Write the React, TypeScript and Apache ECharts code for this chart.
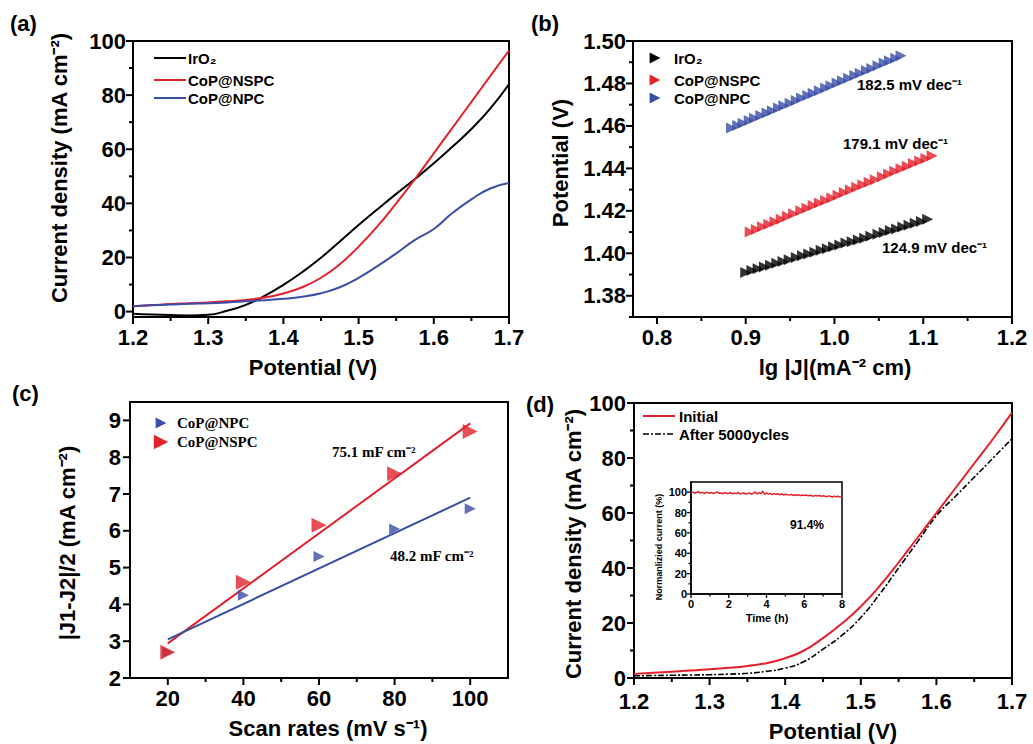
import React, { useEffect, useRef } from "react";
import * as echarts from "echarts";

// ---------- (a) LSV polarization curves ----------
const potentialA = [1.2, 1.225, 1.25, 1.275, 1.3, 1.325, 1.35, 1.375, 1.4, 1.425, 1.45, 1.475, 1.5, 1.525, 1.55, 1.575, 1.6, 1.625, 1.65, 1.675, 1.7];
const iro2A = [-0.8, -1.1, -1.3, -1.4, -1.2, 0.3, 2.5, 5.8, 9.9, 14.6, 19.9, 25.9, 32.0, 37.8, 43.5, 49.0, 54.8, 61.0, 67.5, 75.0, 84.0];
const nspcA = [2.0, 2.4, 2.8, 3.1, 3.4, 3.8, 4.3, 5.2, 6.7, 9.0, 12.5, 17.5, 24.0, 31.5, 40.0, 49.0, 58.5, 68.0, 77.5, 87.0, 96.5];
const npcA = [2.0, 2.3, 2.6, 2.9, 3.1, 3.4, 3.8, 4.2, 4.7, 5.5, 6.8, 9.0, 12.5, 16.8, 21.5, 26.5, 30.5, 36.5, 41.5, 45.5, 47.5];
const seriesNamesA = ["IrO\u2082", "CoP@NSPC", "CoP@NPC"];

// ---------- (b) Tafel plots ----------
const tafelNpcX = [0.884, 0.891, 0.897, 0.904, 0.910, 0.917, 0.924, 0.930, 0.937, 0.943, 0.950, 0.957, 0.963, 0.970, 0.976, 0.983, 0.990, 0.996, 1.003, 1.009, 1.016, 1.023, 1.029, 1.036, 1.042, 1.049, 1.056, 1.062, 1.069, 1.075];
const tafelNpcY = [1.4590, 1.4602, 1.4613, 1.4626, 1.4636, 1.4649, 1.4661, 1.4672, 1.4684, 1.4695, 1.4707, 1.4720, 1.4731, 1.4743, 1.4754, 1.4766, 1.4779, 1.4789, 1.4802, 1.4813, 1.4825, 1.4837, 1.4848, 1.4861, 1.4871, 1.4884, 1.4896, 1.4907, 1.4919, 1.4930];
const tafelNspcX = [0.905, 0.912, 0.919, 0.926, 0.933, 0.940, 0.947, 0.954, 0.962, 0.969, 0.976, 0.983, 0.990, 0.997, 1.004, 1.011, 1.018, 1.025, 1.032, 1.039, 1.046, 1.054, 1.061, 1.068, 1.075, 1.082, 1.089, 1.096, 1.103, 1.110];
const tafelNspcY = [1.4100, 1.4112, 1.4125, 1.4137, 1.4149, 1.4161, 1.4174, 1.4186, 1.4200, 1.4212, 1.4225, 1.4237, 1.4249, 1.4261, 1.4274, 1.4286, 1.4298, 1.4311, 1.4323, 1.4335, 1.4347, 1.4361, 1.4374, 1.4386, 1.4398, 1.4410, 1.4423, 1.4435, 1.4447, 1.4460];
const tafelIrX = [0.900, 0.907, 0.914, 0.921, 0.928, 0.935, 0.942, 0.949, 0.957, 0.964, 0.971, 0.978, 0.985, 0.992, 0.999, 1.006, 1.013, 1.020, 1.027, 1.034, 1.041, 1.049, 1.056, 1.063, 1.070, 1.077, 1.084, 1.091, 1.098, 1.105];
const tafelIrY = [1.3910, 1.3919, 1.3927, 1.3936, 1.3944, 1.3953, 1.3961, 1.3970, 1.3980, 1.3988, 1.3997, 1.4005, 1.4014, 1.4022, 1.4031, 1.4039, 1.4048, 1.4054, 1.4063, 1.4071, 1.4080, 1.4090, 1.4098, 1.4107, 1.4115, 1.4124, 1.4132, 1.4141, 1.4150, 1.4160];
const tafelSlopes = ["182.5 mV dec\u207B\u00B9", "179.1 mV dec\u207B\u00B9", "124.9 mV dec\u207B\u00B9"];

// ---------- (c) double-layer capacitance ----------
const scanRates = [20, 40, 60, 80, 100];
const npcC = [2.7, 4.25, 5.3, 6.05, 6.6];
const nspcC = [2.7, 4.6, 6.15, 7.55, 8.7];
const fitRates = [20, 100];
const npcFit = [3.05, 6.9];
const nspcFit = [2.94, 8.92];
const capLabels = ["75.1 mF cm\u207B\u00B2", "48.2 mF cm\u207B\u00B2"];

// ---------- (d) stability ----------
const potentialD = [1.2, 1.225, 1.25, 1.275, 1.3, 1.325, 1.35, 1.375, 1.4, 1.425, 1.45, 1.475, 1.5, 1.525, 1.55, 1.575, 1.6, 1.625, 1.65, 1.675, 1.7];
const initialD = [1.5, 1.9, 2.3, 2.7, 3.2, 3.7, 4.4, 5.4, 7.2, 10.0, 14.5, 19.8, 26.0, 33.5, 42.0, 51.0, 60.0, 69.0, 78.0, 87.0, 96.5];
const afterD = [0.8, 0.9, 1.0, 1.1, 1.2, 1.4, 1.7, 2.4, 3.6, 6.0, 10.5, 15.5, 22.0, 30.5, 40.0, 49.5, 59.0, 66.0, 73.0, 80.0, 87.0];
const insetStepH = 0.1;
const insetCurrent = [
  99.5, 100.2, 98.8, 99.9, 100.5, 99.1, 99.8, 98.6, 100.1, 99.4, 99.0,
  99.7, 98.5, 99.6, 100.3, 98.9, 99.2, 98.4, 99.8, 98.7, 98.9,
  99.5, 98.3, 99.1, 98.6, 99.9, 98.2, 98.8, 99.4, 98.1, 98.7,
  99.3, 98.0, 98.9, 100.4, 98.3, 99.6, 98.5, 101.0, 97.9, 99.2,
  98.1, 98.8, 97.7, 98.6, 97.9, 98.4, 97.5, 98.2, 97.3, 98.0,
  97.6, 97.1, 97.9, 96.9, 97.5, 96.8, 97.4, 96.6, 97.2, 96.7,
  97.3, 96.4, 97.0, 96.5, 96.1, 96.9, 96.2, 96.8, 95.9, 96.5,
  96.0, 95.6, 96.4, 95.8, 95.3, 96.1, 95.5, 95.9, 95.2, 95.4,
];

// ---------- tick values ----------
const potTicks = [1.2, 1.3, 1.4, 1.5, 1.6, 1.7];
const potMinor = [1.25, 1.35, 1.45, 1.55, 1.65];
const curTicks = [0, 20, 40, 60, 80, 100];
const curMinor = [10, 30, 50, 70, 90];
const lgTicks = [0.8, 0.9, 1.0, 1.1, 1.2];
const lgMinor = [0.85, 0.95, 1.05, 1.15];
const tafTicks = [1.38, 1.40, 1.42, 1.44, 1.46, 1.48, 1.50];
const tafMinor = [1.37, 1.39, 1.41, 1.43, 1.45, 1.47, 1.49];
const rateTicks = [20, 40, 60, 80, 100];
const rateMinor = [30, 50, 70, 90];
const capTicks = [2, 3, 4, 5, 6, 7, 8, 9];
const timeTicks = [0, 2, 4, 6, 8];
const timeMinor = [1, 3, 5, 7];
const normTicks = [0, 20, 40, 60, 80, 100];
const normMinor = [10, 30, 50, 70, 90];

const FONT = '"Liberation Sans", Arial, Helvetica, sans-serif';
const SERIF = '"Liberation Serif", "Times New Roman", serif';
const RED = "#e3212b";
const BLUE = "#3a4ea6";
const BLACK = "#000000";

const GRIDS = [
  { left: 133, top: 41, width: 376, height: 276 },
  { left: 633, top: 41, width: 379, height: 276 },
  { left: 130, top: 402, width: 378, height: 276 },
  { left: 634, top: 403, width: 378, height: 275 },
  { left: 691, top: 482, width: 151, height: 112 },
];
// axis extents per grid: [xMin, xMax, yMin, yMax]
const EXTENTS: [number, number, number, number][] = [
  [1.2, 1.7, -2, 100],
  [0.773, 1.2, 1.37, 1.5],
  [10, 110, 2, 9.5],
  [1.2, 1.7, 0, 100],
  [0, 8, 0, 110],
];

function makeAxis(
  dim: "x" | "y",
  gridIndex: number,
  labels: number[],
  fmt: (v: number) => string,
  fontSize = 22,
  lineW = 2,
  margin = 8
) {
  const e = EXTENTS[gridIndex];
  return {
    type: "value",
    gridIndex,
    min: dim === "x" ? e[0] : e[2],
    max: dim === "x" ? e[1] : e[3],
    position: dim === "x" ? "bottom" : "left",
    axisLine: { show: true, onZero: false, lineStyle: { color: BLACK, width: lineW } },
    axisTick: { show: false },
    axisLabel: {
      show: true,
      customValues: labels,
      formatter: (v: number) => fmt(v),
      fontSize,
      fontWeight: "bold",
      fontFamily: FONT,
      color: BLACK,
      margin,
    },
    splitLine: { show: false },
  };
}

// tick marks drawn through the axes' own scale (api.coord)
function tickSeries(gi: number, dim: "x" | "y", majors: number[], minors: number[], majLen: number, minLen: number, w: number) {
  const e = EXTENTS[gi];
  return {
    type: "custom",
    name: `ticks-${gi}-${dim}`,
    xAxisIndex: gi,
    yAxisIndex: gi,
    clip: false,
    silent: true,
    z: 9,
    data: [...majors.map((v) => [v, majLen]), ...minors.map((v) => [v, minLen])],
    renderItem: (_params: any, api: any) => {
      const v = api.value(0);
      const len = api.value(1);
      if (dim === "x") {
        const p = api.coord([v, e[2]]);
        return { type: "rect", shape: { x: p[0] - w / 2, y: p[1], width: w, height: len }, style: { fill: BLACK } };
      }
      const p = api.coord([e[0], v]);
      return { type: "rect", shape: { x: p[0] - len, y: p[1] - w / 2, width: len, height: w }, style: { fill: BLACK } };
    },
  };
}

function tri(cx: number, cy: number, s: number, color: string) {
  return {
    type: "polygon",
    shape: { points: [[cx - s * 0.6, cy - s * 0.6], [cx + s * 0.6, cy], [cx - s * 0.6, cy + s * 0.6]] },
    style: { fill: color },
  };
}

function txt(x: number, y: number, text: string, size: number, opts: any = {}) {
  return {
    type: "text",
    x,
    y,
    rotation: opts.rotation || 0,
    style: {
      text,
      fill: BLACK,
      font: `${opts.weight || "bold"} ${size}px ${opts.family || FONT}`,
      align: opts.align || "left",
      verticalAlign: "middle",
    },
    z: 10,
  };
}

const zip = (a: number[], b: number[]) => a.map((v, i) => [v, b[i]]);

export default function App() {
  const ref = useRef<HTMLDivElement>(null);
  useEffect(() => {
    if (!ref.current) return;
    const chart = echarts.init(ref.current, undefined, { renderer: "svg" });
    const f1 = (v: number) => v.toFixed(1);
    const f2 = (v: number) => v.toFixed(2);
    const f0 = (v: number) => String(Math.round(v));

    const xAxis = [
      makeAxis("x", 0, potTicks, f1, 22, 2, 9),
      makeAxis("x", 1, lgTicks, f1, 22, 2, 9),
      makeAxis("x", 2, rateTicks, f0, 22, 2, 9),
      makeAxis("x", 3, potTicks, f1, 22, 2, 12),
      makeAxis("x", 4, timeTicks, f0, 11, 1.5, 4),
    ];
    const yAxis = [
      makeAxis("y", 0, curTicks, f0, 22, 2, 7),
      makeAxis("y", 1, tafTicks, f2, 22, 2, 7),
      makeAxis("y", 2, capTicks, f0, 22, 2, 9),
      makeAxis("y", 3, curTicks, f0, 22, 2, 8),
      makeAxis("y", 4, normTicks, f0, 11, 1.5, 4),
    ];

    const grid = GRIDS.map((g, i) => ({
      ...g,
      show: true,
      borderColor: BLACK,
      borderWidth: i === 4 ? 1.5 : 2,
      backgroundColor: i === 4 ? "#fff" : "transparent",
      containLabel: false,
    }));

    const lineA = (name: string, data: number[], color: string) => ({
      type: "line",
      name,
      xAxisIndex: 0,
      yAxisIndex: 0,
      data: zip(potentialA, data),
      smooth: 0.5,
      showSymbol: false,
      lineStyle: { color, width: 2 },
      z: 3,
    });
    const tafel = (name: string, xs: number[], ys: number[], color: string) => ({
      type: "scatter",
      name,
      xAxisIndex: 1,
      yAxisIndex: 1,
      data: zip(xs, ys),
      symbol: "triangle",
      symbolRotate: -90,
      symbolSize: 11,
      itemStyle: { color },
    });

    const series: any[] = [
      lineA(seriesNamesA[0], iro2A, BLACK),
      lineA(seriesNamesA[1], nspcA, RED),
      lineA(seriesNamesA[2], npcA, BLUE),
      tafel("IrO2-tafel", tafelIrX, tafelIrY, BLACK),
      tafel("NSPC-tafel", tafelNspcX, tafelNspcY, RED),
      tafel("NPC-tafel", tafelNpcX, tafelNpcY, BLUE),
      {
        type: "line", name: "NSPC-fit", xAxisIndex: 2, yAxisIndex: 2,
        data: zip(fitRates, nspcFit), showSymbol: false, lineStyle: { color: RED, width: 2 }, z: 2,
      },
      {
        type: "line", name: "NPC-fit", xAxisIndex: 2, yAxisIndex: 2,
        data: zip(fitRates, npcFit), showSymbol: false, lineStyle: { color: BLUE, width: 2 }, z: 2,
      },
      {
        type: "scatter", name: "CoP@NPC-c", xAxisIndex: 2, yAxisIndex: 2,
        data: zip(scanRates, npcC), symbol: "triangle", symbolRotate: -90, symbolSize: 11,
        itemStyle: { color: BLUE }, z: 4,
      },
      {
        type: "scatter", name: "CoP@NSPC-c", xAxisIndex: 2, yAxisIndex: 2,
        data: zip(scanRates, nspcC), symbol: "triangle", symbolRotate: -90, symbolSize: 15,
        itemStyle: { color: RED }, z: 4,
      },
      {
        type: "line", name: "After", xAxisIndex: 3, yAxisIndex: 3,
        data: zip(potentialD, afterD), smooth: 0.5, showSymbol: false,
        lineStyle: { color: BLACK, width: 1.6, type: [6, 2, 2, 2] }, z: 3,
      },
      {
        type: "line", name: "Initial", xAxisIndex: 3, yAxisIndex: 3,
        data: zip(potentialD, initialD), smooth: 0.5, showSymbol: false,
        lineStyle: { color: RED, width: 2 }, z: 4,
      },
      {
        type: "line", name: "Normalized", xAxisIndex: 4, yAxisIndex: 4,
        data: insetCurrent.map((v, i) => [i * insetStepH, v]), showSymbol: false,
        lineStyle: { color: RED, width: 1.5 }, z: 5,
      },
      tickSeries(0, "x", potTicks, potMinor, 7, 4, 2),
      tickSeries(0, "y", curTicks, curMinor, 7, 4, 2),
      tickSeries(1, "x", lgTicks, lgMinor, 7, 4, 2),
      tickSeries(1, "y", tafTicks, tafMinor, 7, 4, 2),
      tickSeries(2, "x", rateTicks, rateMinor, 7, 4, 2),
      tickSeries(2, "y", capTicks, [], 7, 4, 2),
      tickSeries(3, "x", potTicks, potMinor, 7, 4, 2),
      tickSeries(3, "y", curTicks, curMinor, 7, 4, 2),
      tickSeries(4, "x", timeTicks, timeMinor, 4, 2.5, 1.3),
      tickSeries(4, "y", normTicks, normMinor, 4, 2.5, 1.3),
    ];

    const graphic: any[] = [
      // panel labels
      txt(10, 23, "(a)", 22),
      txt(531, 23, "(b)", 22),
      txt(12, 393, "(c)", 22),
      txt(526, 404, "(d)", 22),
      // axis titles
      txt(59, 168, "Current density (mA cm\u207B\u00B2)", 22, { rotation: Math.PI / 2, align: "center" }),
      txt(313, 367, "Potential (V)", 22, { align: "center" }),
      txt(560, 163, "Potential (V)", 22, { rotation: Math.PI / 2, align: "center" }),
      txt(835, 367, "lg |J|(mA\u207B\u00B2 cm)", 22, { align: "center" }),
      txt(67, 543, "|J1-J2|/2 (mA cm\u207B\u00B2)", 22, { rotation: Math.PI / 2, align: "center" }),
      txt(328, 728, "Scan rates (mV s\u207B\u00B9)", 22, { align: "center" }),
      txt(573, 544, "Current density (mA cm\u207B\u00B2)", 22, { rotation: Math.PI / 2, align: "center" }),
      txt(833, 731, "Potential (V)", 22, { align: "center" }),
      txt(659, 547, "Normanlizied current (%)", 9, { rotation: Math.PI / 2, align: "center" }),
      txt(767, 618, "Time (h)", 11, { align: "center" }),
      txt(790, 525, "91.4%", 12),
      // legend (a)
      { type: "line", shape: { x1: 154, y1: 58, x2: 186, y2: 58 }, style: { stroke: BLACK, lineWidth: 2 } },
      { type: "line", shape: { x1: 154, y1: 80, x2: 186, y2: 80 }, style: { stroke: RED, lineWidth: 2 } },
      { type: "line", shape: { x1: 154, y1: 98, x2: 186, y2: 98 }, style: { stroke: BLUE, lineWidth: 2 } },
      txt(188, 58, seriesNamesA[0], 15),
      txt(188, 80, seriesNamesA[1], 15),
      txt(188, 98, seriesNamesA[2], 15),
      // legend (b)
      tri(655, 58, 9, BLACK),
      tri(655, 80, 9, RED),
      tri(655, 98, 9, BLUE),
      txt(674, 58, seriesNamesA[0], 15),
      txt(674, 80, seriesNamesA[1], 15),
      txt(674, 98, seriesNamesA[2], 15),
      txt(857, 84, tafelSlopes[0], 15),
      txt(843, 143, tafelSlopes[1], 15),
      txt(882, 247, tafelSlopes[2], 15),
      // legend (c)
      tri(161, 423, 9, BLUE),
      tri(161, 442, 12, RED),
      txt(177, 423, "CoP@NPC", 15, { family: SERIF }),
      txt(177, 442, "CoP@NSPC", 15, { family: SERIF }),
      txt(332, 452, capLabels[0], 15, { family: SERIF }),
      txt(390, 556, capLabels[1], 15, { family: SERIF }),
      // legend (d)
      { type: "line", shape: { x1: 643, y1: 416, x2: 675, y2: 416 }, style: { stroke: RED, lineWidth: 2 } },
      { type: "line", shape: { x1: 643, y1: 434, x2: 675, y2: 434 }, style: { stroke: BLACK, lineWidth: 1.6, lineDash: [6, 2, 2, 2] } },
      txt(679, 416, "Initial", 15),
      txt(679, 434, "After 5000ycles", 15),
    ];

    chart.setOption({ animation: false, backgroundColor: "#fff", grid, xAxis, yAxis, series, graphic });
    return () => chart.dispose();
  }, []);

  return (
    <div
      ref={ref}
      style={{ position: "fixed", left: 0, top: 0, width: 1033, height: 744, background: "#fff" }}
    />
  );
}
